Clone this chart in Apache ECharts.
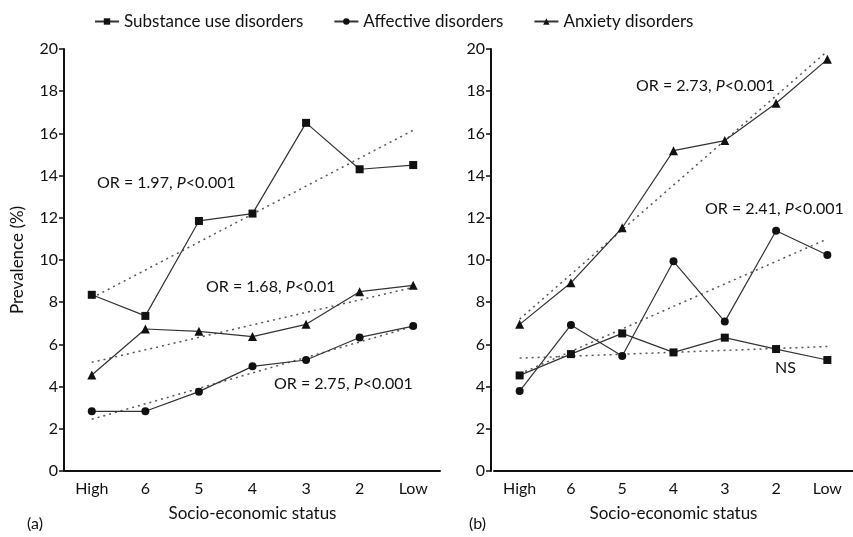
<!DOCTYPE html>
<html>
<head>
<meta charset="utf-8">
<script src="https://cdn.jsdelivr.net/npm/echarts@6/dist/echarts.min.js"></script>
<style>
  html, body { margin: 0; padding: 0; background: #fff; }
  #chart { width: 853px; height: 537px; }
</style>
</head>
<body>
<div id="chart"></div>
<script>
var myChart = echarts.init(document.getElementById('chart'));

// data
const categories = ['High', '6', '5', '4', '3', '2', 'Low'];

// panel (a)
const substanceA = [8.35, 7.35, 11.85, 12.2, 16.5, 14.3, 14.5];
const affectiveA = [2.83, 2.83, 3.76, 4.96, 5.26, 6.33, 6.87];
const anxietyA = [4.55, 6.73, 6.62, 6.37, 6.95, 8.5, 8.8];
const substanceTrendA = [8.2, 16.15];
const affectiveTrendA = [2.45, 6.85];
const anxietyTrendA = [5.15, 8.7];

// panel (b)
const substanceB = [4.53, 5.54, 6.52, 5.62, 6.32, 5.78, 5.26];
const affectiveB = [3.79, 6.92, 5.45, 9.94, 7.08, 11.39, 10.24];
const anxietyB = [6.95, 8.92, 11.53, 15.18, 15.66, 17.43, 19.51];
const substanceTrendB = [5.35, 5.9];
const affectiveTrendB = [4.6, 11.0];
const anxietyTrendB = [7.2, 19.9];

const fontFamily = 'Lato';
const black = '#111';

// trend lines only need their two end points
const trendPoints = (pair) => [[categories[0], pair[0]], [categories[categories.length - 1], pair[1]]];

const dataSeries = (name, data, symbol, idx) => ({
    name: name,
    type: 'line',
    xAxisIndex: idx,
    yAxisIndex: idx,
    data: data,
    symbol: symbol,
    symbolSize: symbol === 'triangle' ? 9 : 8,
    itemStyle: { color: black },
    lineStyle: { color: '#333', width: 1.2 },
    z: 3
});

const trendSeries = (pair, idx) => ({
    type: 'line',
    xAxisIndex: idx,
    yAxisIndex: idx,
    data: trendPoints(pair),
    symbol: 'none',
    silent: true,
    lineStyle: { color: '#555', width: 1.5, type: [2, 4] },
    z: 2
});

const xAxisFor = (idx) => ({
    type: 'category',
    gridIndex: idx,
    data: categories,
    boundaryGap: true,
    axisLine: { lineStyle: { color: black, width: 2 } },
    axisTick: { show: false },
    axisLabel: { color: black, fontSize: 16, fontFamily: fontFamily, margin: 10 },
    name: 'Socio-economic status',
    nameLocation: 'middle',
    nameGap: 34,
    nameTextStyle: { color: black, fontSize: 17, fontFamily: fontFamily }
});

const yAxisFor = (idx, offset) => ({
    type: 'value',
    gridIndex: idx,
    min: 0,
    max: 20,
    interval: 2,
    offset: offset,
    splitLine: { show: false },
    axisLine: { show: true, lineStyle: { color: black, width: 2 } },
    axisTick: { show: true, length: 5, lineStyle: { color: black, width: 1.5 } },
    axisLabel: { color: black, fontSize: 16, fontFamily: fontFamily, margin: 6 },
    name: idx === 0 ? 'Prevalence (%)' : '',
    nameLocation: 'middle',
    nameGap: 38,
    nameTextStyle: { color: black, fontSize: 17, fontFamily: fontFamily }
});

const noteText = (x, y, or, p) => ({
    type: 'text',
    left: x,
    top: y,
    style: {
        text: '{n|OR = ' + or + ', }{i|P}{n|' + p + '}',
        rich: {
            n: { fontSize: 16, fontFamily: fontFamily, fill: black },
            i: { fontSize: 16, fontFamily: fontFamily, fontStyle: 'italic', fill: black }
        }
    }
});

option = {
    animation: false,
    backgroundColor: '#fff',
    legend: {
        left: 89,
        top: 8,
        itemWidth: 24,
        itemHeight: 8,
        itemGap: 30,
        textStyle: { color: black, fontSize: 17, fontFamily: fontFamily },
        data: ['Substance use disorders', 'Affective disorders', 'Anxiety disorders']
    },
    grid: [
        { left: 65, top: 49, width: 375, height: 422 },
        { left: 494, top: 49, width: 373, height: 422 }
    ],
    xAxis: [xAxisFor(0), xAxisFor(1)],
    yAxis: [yAxisFor(0, 1), yAxisFor(1, 3)],
    series: [
        dataSeries('Substance use disorders', substanceA, 'rect', 0),
        dataSeries('Affective disorders', affectiveA, 'circle', 0),
        dataSeries('Anxiety disorders', anxietyA, 'triangle', 0),
        trendSeries(substanceTrendA, 0),
        trendSeries(affectiveTrendA, 0),
        trendSeries(anxietyTrendA, 0),
        dataSeries('Substance use disorders', substanceB, 'rect', 1),
        dataSeries('Affective disorders', affectiveB, 'circle', 1),
        dataSeries('Anxiety disorders', anxietyB, 'triangle', 1),
        trendSeries(substanceTrendB, 1),
        trendSeries(affectiveTrendB, 1),
        trendSeries(anxietyTrendB, 1)
    ],
    graphic: [
        noteText(97, 175, '1.97', '<0.001'),
        noteText(206, 279, '1.68', '<0.01'),
        noteText(274, 376, '2.75', '<0.001'),
        noteText(636, 78, '2.73', '<0.001'),
        noteText(705, 201, '2.41', '<0.001'),
        { type: 'text', left: 775, top: 360, style: { text: 'NS', fontSize: 16, fontFamily: fontFamily, fill: black } },
        { type: 'text', left: 27, top: 516, style: { text: '(a)', fontSize: 16, fontFamily: fontFamily, fill: black } },
        { type: 'text', left: 469, top: 516, style: { text: '(b)', fontSize: 16, fontFamily: fontFamily, fill: black } }
    ]
};

myChart.setOption(option);
</script>
</body>
</html>
